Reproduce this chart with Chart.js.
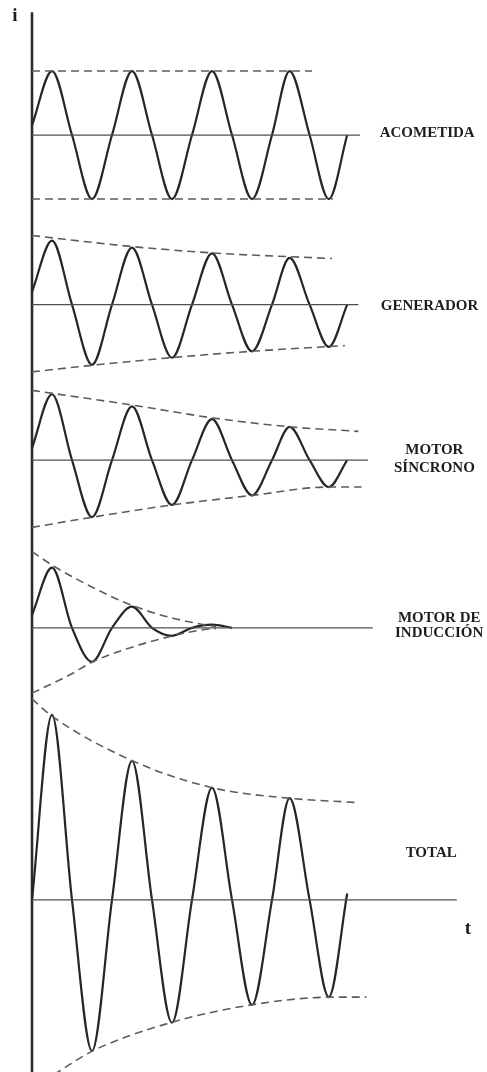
<!DOCTYPE html>
<html>
<head>
<meta charset="utf-8">
<script src="https://cdn.jsdelivr.net/npm/chart.js@4/dist/chart.umd.min.js"></script>
<style>
    html, body { margin: 0; padding: 0; background: #fff; }
    #wrap { width: 487px; height: 1072px; }
</style>
</head>
<body>
<div id="wrap"><canvas id="shortCircuit" width="487" height="1072"></canvas></div>
<script>
// time in cycles, same sampling for every wave (peaks, zero crossings, troughs)
const time = [0, 0.25, 0.5, 0.75, 1, 1.25, 1.5, 1.75, 2, 2.25, 2.5, 2.75, 3, 3.22, 3.47, 3.71, 3.94];

// current, per unit of the steady amplitude of the supply
const acometida = [0.15, 1, 0, -1, 0, 1, 0, -1, 0, 1, 0, -1, 0, 1, 0, -1, 0];
const generador = [0.2, 1.0, 0, -0.94, 0, 0.89, 0, -0.83, 0, 0.80, 0, -0.73, 0, 0.73, 0, -0.66, 0];
const motorSincrono = [0.19, 1.03, 0, -0.89, 0, 0.84, 0, -0.70, 0, 0.64, 0, -0.55, 0, 0.52, 0, -0.42, 0];
const motorInduccion = [0.2, 0.94, 0, -0.53, 0, 0.33, 0, -0.125, 0, 0.05, 0, null, null, null, null, null, null];
const total = [0, 2.89, 0, -2.36, 0, 2.17, 0, -1.92, 0, 1.75, 0, -1.64, 0, 1.59, 0, -1.52, 0.1];

// dashed envelopes: times and values
const acometidaUpT = [0, 3.5];
const acometidaUp = [1, 1];
const acometidaLowT = [0, 3.76];
const acometidaLow = [-1, -1];

const generadorUpT = [0, 1.23, 2.23, 3.75];
const generadorUp = [1.08, 0.91, 0.81, 0.72];
const generadorLowT = [0, 0.81, 1.73, 2.73, 3.91];
const generadorLow = [-1.05, -0.94, -0.83, -0.73, -0.64];

const sincronoUpT = [0, 1.26, 2.26, 3.23, 4.08];
const sincronoUp = [1.09, 0.86, 0.66, 0.52, 0.45];
const sincronoLowT = [0, 0.76, 1.75, 2.76, 3.7, 4.12];
const sincronoLow = [-1.05, -0.89, -0.70, -0.55, -0.42, -0.42];

const induccionUpT = [0, 0.29, 0.81, 1.23, 1.64, 2.06, 2.3];
const induccionUp = [1.19, 0.95, 0.60, 0.36, 0.19, 0.07, 0.02];
const induccionLowT = [0, 0.48, 0.76, 1.23, 1.76, 2.14, 2.3];
const induccionLow = [-1.02, -0.73, -0.53, -0.31, -0.125, -0.03, -0.01];

const totalUpT = [0, 0.25, 1.26, 2.26, 3.2, 4.06];
const totalUp = [3.14, 2.87, 2.17, 1.75, 1.59, 1.52];
const totalLowT = [0, 0.35, 0.76, 1.73, 2.75, 3.76, 4.18];
const totalLow = [-2.95, -2.67, -2.36, -1.92, -1.64, -1.52, -1.52];

// one row per trace, stacked on its own zero line
const names = [['ACOMETIDA'], ['GENERADOR'], ['MOTOR', 'SÍNCRONO'], ['MOTOR DE', 'INDUCCIÓN'], ['TOTAL']];
const baselines = [11.95, 9.3, 6.87, 4.25, 0];
const baselineEnds = [4.1, 4.08, 4.2, 4.26, 5.31];

const waves = [acometida, generador, motorSincrono, motorInduccion, total];
const uppers = [[acometidaUpT, acometidaUp], [generadorUpT, generadorUp], [sincronoUpT, sincronoUp], [induccionUpT, induccionUp], [totalUpT, totalUp]];
const lowers = [[acometidaLowT, acometidaLow], [generadorLowT, generadorLow], [sincronoLowT, sincronoLow], [induccionLowT, induccionLow], [totalLowT, totalLow]];

const ink = '#262626';

function points(ts, vs, base) {
    return ts.map((t, i) => ({ x: t, y: vs[i] === null ? null : vs[i] + base }));
}

const datasets = [];
baselines.forEach(function (base, k) {
    datasets.push({
        data: [{ x: 0, y: base }, { x: baselineEnds[k], y: base }],
        borderColor: '#505050',
        borderWidth: 1.3
    });
    [uppers[k], lowers[k]].forEach(function (env) {
        datasets.push({
            data: points(env[0], env[1], base),
            borderColor: '#5c5c5c',
            borderWidth: 1.6,
            borderDash: [8, 5],
            cubicInterpolationMode: 'monotone'
        });
    });
    datasets.push({
        data: points(time, waves[k], base),
        borderColor: ink,
        borderWidth: 2.2,
        cubicInterpolationMode: 'monotone'
    });
});

const axisTop = 13.87;

const drawing = {
    id: 'drawing',
    beforeDatasetsDraw(chart) {
        const { ctx, scales: { x, y } } = chart;
        ctx.save();
        ctx.strokeStyle = '#2b2b2b';
        ctx.lineWidth = 2.6;
        ctx.beginPath();
        ctx.moveTo(x.getPixelForValue(0), y.getPixelForValue(axisTop));
        ctx.lineTo(x.getPixelForValue(0), chart.height);
        ctx.stroke();
        ctx.restore();
    },
    afterDraw(chart) {
        const { ctx, scales: { x, y } } = chart;
        ctx.save();
        ctx.fillStyle = '#1e1e1e';
        ctx.textAlign = 'center';
        ctx.textBaseline = 'middle';
        ctx.font = 'bold 15px "Liberation Serif", "DejaVu Serif", serif';
        const labelX = [4.94, 4.97, 5.03, 5.09, 4.99];
        const labelDy = [[-2], [1], [-10, 8], [-10, 5], [-47]];
        names.forEach(function (lines, k) {
            const by = y.getPixelForValue(baselines[k]);
            lines.forEach(function (txt, j) {
                ctx.fillText(txt, x.getPixelForValue(labelX[k]), by + labelDy[k][j]);
            });
        });
        ctx.font = 'bold 19px "Liberation Serif", "DejaVu Serif", serif';
        ctx.fillText('i', 15, 16);
        ctx.fillText('t', x.getPixelForValue(5.45), y.getPixelForValue(0) + 29);
        ctx.restore();
    }
};

new Chart(document.getElementById('shortCircuit'), {
    type: 'line',
    data: { datasets: datasets },
    options: {
        responsive: false,
        animation: false,
        devicePixelRatio: 1,
        layout: { padding: 0 },
        elements: { point: { radius: 0 }, line: { tension: 0 } },
        plugins: { legend: { display: false }, tooltip: { enabled: false } },
        scales: {
            x: { type: 'linear', min: -0.4, max: 5.6875, display: false },
            y: { type: 'linear', min: -2.69, max: 14.06, display: false }
        }
    },
    plugins: [drawing]
});
</script>
</body>
</html>
